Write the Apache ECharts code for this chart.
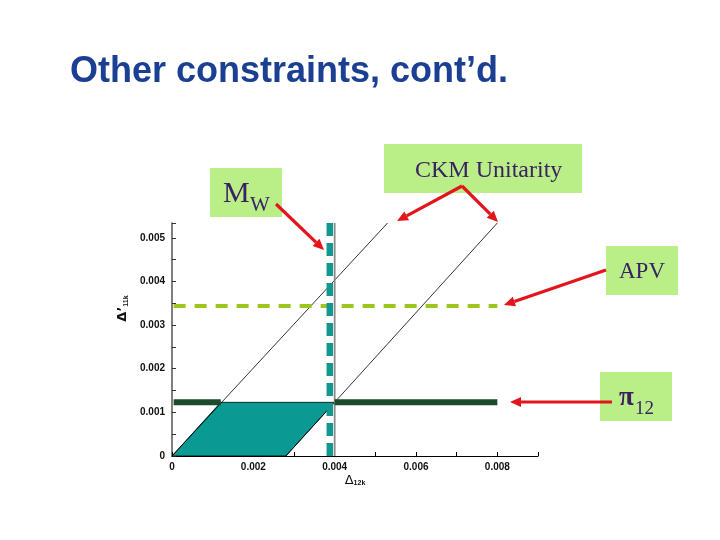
<!DOCTYPE html>
<html>
<head>
<meta charset="utf-8">
<script src="https://cdn.jsdelivr.net/npm/echarts@6/dist/echarts.min.js"></script>
<style>html,body{margin:0;padding:0;background:#fff}#c{width:720px;height:540px}</style>
</head>
<body>
<div id="c"></div>
<script>
// ---- data ----
const xRange = [0, 0.009];
const yRange = [0, 0.00534];
const mwX = 0.00388;                       // M_W constraint (vertical dashed)
const apvY = 0.00344;                      // APV constraint (horizontal dashed)
const apvXSpan = [0.00004, 0.008];
const pi12Y = 0.00123;                     // pi_l2 constraint (thick dark green)
const pi12LeftX = [0.00004, 0.0012];
const pi12RightX = [0.004, 0.008];
const ckmLine1 = [[0, 0], [0.0053, 0.00534]];     // CKM unitarity band edges
const ckmLine2 = [[0.0028, 0], [0.008, 0.00534]];
const grayLineX = 0.004;
const regionX = [0, 0.0012, 0.004, 0.0028];       // allowed region
const regionY = [0, 0.00123, 0.00123, 0];

const chart = echarts.init(document.getElementById('c'));
const lab = {fontFamily:'Liberation Sans, Arial, sans-serif', fontWeight:'bold', fontSize:10, color:'#111'};

function arrow(x1,y1,x2,y2){
  const a=Math.atan2(y2-y1,x2-x1), L=11, W=5;
  const bx=x2-L*Math.cos(a), by=y2-L*Math.sin(a);
  const px=-Math.sin(a)*W, py=Math.cos(a)*W;
  return [
    {type:'line', shape:{x1:x1,y1:y1,x2:bx,y2:by}, style:{stroke:'#e3141b', lineWidth:3.2}, z:100},
    {type:'polygon', shape:{points:[[x2,y2],[bx+px,by+py],[bx-px,by-py]]}, style:{fill:'#e3141b'}, z:100}
  ];
}
function box(x,y,w,h){ return {type:'rect', shape:{x:x,y:y,width:w,height:h}, style:{fill:'#b9ef86'}, z:90}; }
// place text so that its baseline is at b
function txt(t,x,b,size,bold){
  return {type:'text', x:x, y:b-0.82*size, style:{text:t, font:(bold?'bold ':'')+size+'px "Liberation Serif", "Times New Roman", serif', fill:'#3b2163', align:'left', verticalAlign:'top'}, z:95};
}

const graphics = [
  {type:'text', x:70, y:72, style:{text:'Other constraints, cont\u2019d.', font:'bold 36px "Liberation Sans", Arial, sans-serif', fill:'#1b3f92', verticalAlign:'middle'}, z:95},
  box(210,168,72,49),
  txt('M',223,204,30), txt('W',250,212,21),
  box(384,144,198,49),
  txt('CKM Unitarity',415,178,24),
  box(606,246,72,49),
  txt('APV',619,279,23),
  box(600,372,72,49),
  txt('\u03c0',619,407,27,true), txt('12',635,415,19)
].concat(
  arrow(276,204,324,250),
  arrow(462,186,397,221),
  arrow(462,186,498,222),
  arrow(606,270,504,305),
  arrow(612,402,510,402)
);

const option = {
  animation:false,
  backgroundColor:'#fff',
  grid:{left:172, right:182, top:223, bottom:84},
  xAxis:{
    type:'value', min:xRange[0], max:xRange[1], interval:0.002,
    name:'{a|\u0394}{b|12k}', nameLocation:'middle', nameGap:18,
    nameTextStyle:{rich:{a:{fontSize:13, fontFamily:'DejaVu Sans', color:'#111'}, b:{fontSize:7, fontWeight:'bold', fontFamily:'Liberation Sans', color:'#111', verticalAlign:'bottom', padding:[6,0,0,0]}}},
    axisLine:{lineStyle:{color:'#000', width:1.2}},
    axisTick:{inside:true, length:4, lineStyle:{color:'#000'}},
    minorTick:{show:true, splitNumber:2, length:4, lineStyle:{color:'#000'}},
    splitLine:{show:false},
    axisLabel:Object.assign({margin:6, showMaxLabel:false, formatter:v=>v===0?'0':v.toFixed(3)}, lab)
  },
  yAxis:{
    type:'value', min:yRange[0], max:yRange[1], interval:0.001,
    name:'{a|\u0394\u2019}{b|11k}', nameLocation:'middle', nameGap:42, nameRotate:90,
    nameTextStyle:{padding:[0,0,0,62], rich:{a:{fontSize:13, fontWeight:'bold', fontFamily:'DejaVu Sans', color:'#111'}, b:{fontSize:7, fontWeight:'bold', fontFamily:'Liberation Sans', color:'#111', verticalAlign:'bottom', padding:[6,0,0,0]}}},
    axisLine:{lineStyle:{color:'#555', width:1.5}},
    axisTick:{inside:true, length:4, lineStyle:{color:'#333'}},
    minorTick:{show:true, splitNumber:2, length:4, lineStyle:{color:'#333'}},
    splitLine:{show:false},
    axisLabel:Object.assign({margin:7, showMaxLabel:false, formatter:v=>v===0?'0':v.toFixed(3)}, lab)
  },
  series:[
    {type:'custom', coordinateSystem:'cartesian2d', z:1,
      data: regionX.map((x,i)=>[x, regionY[i]]),
      renderItem:function(params, api){
        if (params.dataIndex !== 0) return null;
        const pts = regionX.map((x,i)=>api.coord([x, regionY[i]]));
        return {type:'polygon', shape:{points:pts}, style:{fill:'#0b9a93', stroke:'#000', lineWidth:0.8}};
      }},
    {type:'line', data:ckmLine1, showSymbol:false, z:2, lineStyle:{color:'#000', width:0.8}},
    {type:'line', data:ckmLine2, showSymbol:false, z:2, lineStyle:{color:'#000', width:0.8}},
    {type:'line', data:[[grayLineX,yRange[0]],[grayLineX,yRange[1]]], showSymbol:false, z:3, lineStyle:{color:'#8a8a8a', width:1.8}},
    {type:'line', data:[[pi12LeftX[0],pi12Y],[pi12LeftX[1],pi12Y]], showSymbol:false, z:4, lineStyle:{color:'#1c4a2a', width:6, cap:'butt'}},
    {type:'line', data:[[pi12RightX[0],pi12Y],[pi12RightX[1],pi12Y]], showSymbol:false, z:4, lineStyle:{color:'#1c4a2a', width:6, cap:'butt'}},
    {type:'line', data:[[apvXSpan[0],apvY],[apvXSpan[1],apvY]], showSymbol:false, z:5, lineStyle:{color:'#9cc61e', width:4, type:[12,9]}},
    {type:'line', data:[[mwX,yRange[1]],[mwX,yRange[0]]], showSymbol:false, z:6, lineStyle:{color:'#139891', width:6.5, type:[13,7]}}
  ],
  graphic: graphics
};
chart.setOption(option);
</script>
</body>
</html>
